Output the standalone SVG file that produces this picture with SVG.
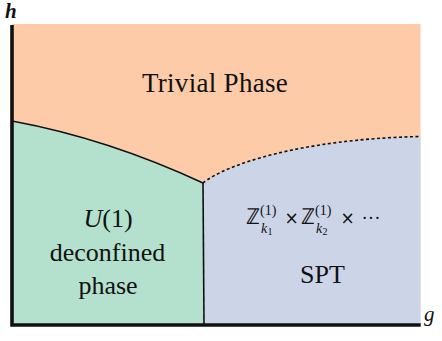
<svg xmlns="http://www.w3.org/2000/svg" width="442" height="341" viewBox="0 0 442 341">
<style>
text{font-family:'Liberation Serif','Times New Roman',serif;fill:#111}
.lbl{font-size:26px;text-anchor:middle}
.big{font-size:27px;letter-spacing:0.3px}
.ax{font-size:21px;font-style:italic}
.bb{font-size:22px}
.sup{font-size:14px}
.sub{font-size:14px;font-style:italic}
.subn{font-size:10px}
.op{font-family:'DejaVu Sans',sans-serif;font-size:17px}
.dots{font-size:19px}
.edge{fill:none;stroke:#111;stroke-width:1.6}
.axis{fill:none;stroke:#111;stroke-width:3.6}
</style>
<g id="trivial">
<rect x="12" y="24" width="408.5" height="301" fill="#FDCBA7"/>
<text class="lbl big" x="215" y="92">Trivial Phase</text>
</g>
<g id="u1">
<path d="M12,121 Q107.5,138.6 203,183 L204,325 L12,325 Z" fill="#B3E1CD"/>
<text class="lbl" x="108" y="227"><tspan font-style="italic">U</tspan>(1)</text>
<text class="lbl" x="107.5" y="261">deconfined</text>
<text class="lbl" x="108" y="294">phase</text>
</g>
<g id="spt">
<path d="M203,183 C225,165 300,139 420.5,136.5 L420.5,325 L204,325 Z" fill="#CCD5E8"/>
<text class="bb" x="246" y="224">ℤ</text>
<text class="sup" x="260" y="215">(1)</text>
<text class="sub" x="261" y="233">k</text>
<text class="subn" x="267.5" y="235">1</text>
<text class="op" x="284.5" y="224">×</text>
<text class="bb" x="301" y="224">ℤ</text>
<text class="sup" x="315" y="215">(1)</text>
<text class="sub" x="316" y="233">k</text>
<text class="subn" x="322.5" y="235">2</text>
<text class="op" x="340.5" y="224">×</text>
<text class="dots" x="361.5" y="224">···</text>
<text class="lbl" x="322.5" y="283">SPT</text>
</g>
<g id="connectors">
<path class="edge" d="M12,121 Q107.5,138.6 203,183"/>
<path class="edge" d="M203,183 L204,325"/>
<path class="edge" d="M203,183 C225,165 300,139 420.5,136.5" stroke-dasharray="3 2.5" stroke-width="1.8"/>
</g>
<g id="axes">
<path class="axis" d="M12,25 L12,325 L420.7,325"/>
<text class="ax" x="5" y="18" font-weight="bold">h</text>
<text class="ax" x="424" y="321">g</text>
</g>
</svg>
